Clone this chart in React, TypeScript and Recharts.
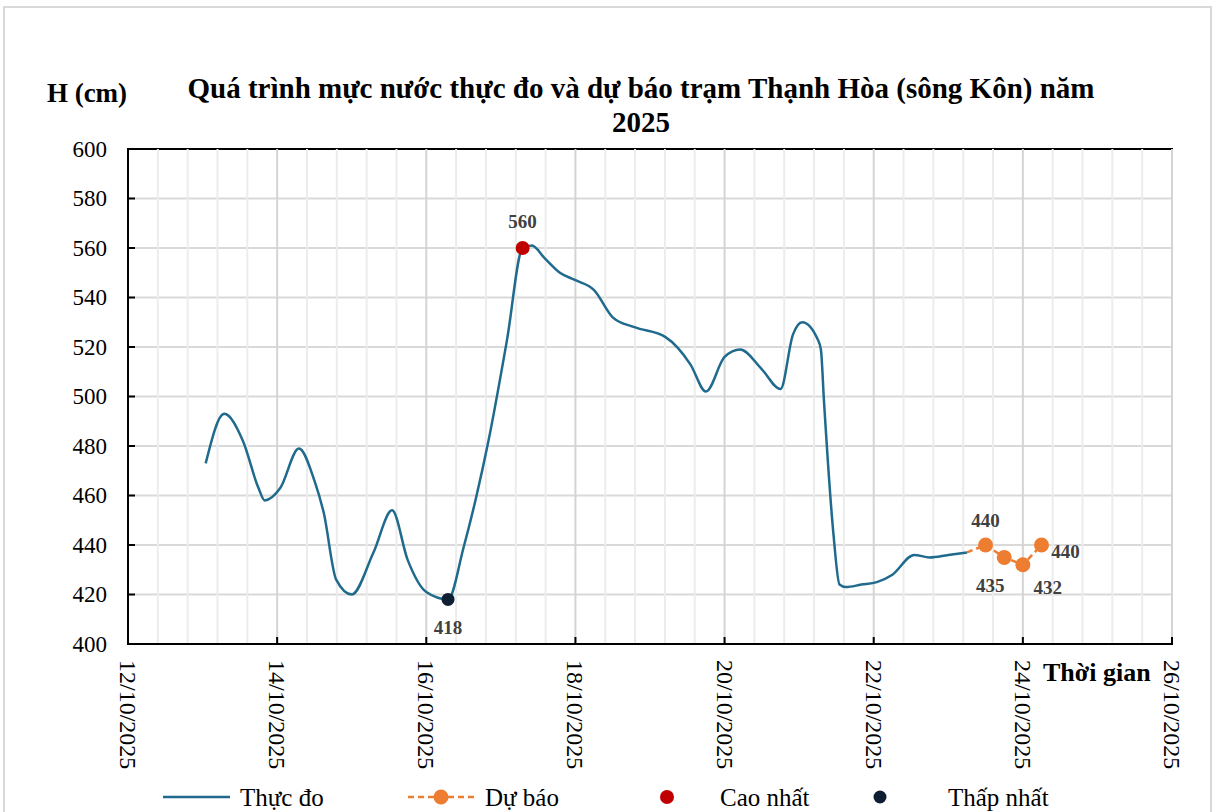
import React from 'react';
import { ComposedChart, Line, XAxis, YAxis, CartesianGrid, ReferenceLine, ReferenceArea, LabelList } from 'recharts';

// thời gian tính bằng giờ kể từ 00:00 ngày 12/10/2025
const OBS_T = [25, 31, 37, 42, 44, 49, 55, 60, 63, 67, 72, 79, 85, 90, 96, 103, 108, 112, 116, 122, 127, 130, 134, 139, 144, 150, 156, 163, 173, 181, 186, 192, 197, 204, 210, 214, 217, 222, 223, 224, 227, 229, 231, 236, 241, 246, 253, 258, 264, 270];
const OBS_H = [473, 493, 482, 463, 458, 463, 479, 466, 453, 426, 420, 437, 454, 434, 421, 418, 439, 459, 482, 523, 560, 561, 556, 550, 547, 543, 532, 528, 524, 513, 502, 516, 519, 511, 503, 525, 530, 523, 519, 498, 445, 424, 423, 424, 425, 428, 436, 435, 436, 437];

const FC_T = [270, 276, 282, 288, 294];
const FC_H = [437, 440, 435, 432, 440];

const MAX_T = 127;
const MAX_H = 560;
const MIN_T = 103;
const MIN_H = 418;

const X_TICKS = [0, 48, 96, 144, 192, 240, 288, 336];
const X_LABELS = ['12/10/2025', '14/10/2025', '16/10/2025', '18/10/2025', '20/10/2025', '22/10/2025', '24/10/2025', '26/10/2025'];
const Y_TICKS = [400, 420, 440, 460, 480, 500, 520, 540, 560, 580, 600];
const MINOR_X = Array.from({ length: 36 }, (_, i) => i * 9.6).filter((v) => Math.abs(v / 48 - Math.round(v / 48)) > 0.01);

const observed = OBS_T.map((t, i) => ({ t, h: OBS_H[i] }));
const forecast = FC_T.map((t, i) => ({ t, h: FC_H[i] }));
const highest = [{ t: MAX_T, h: MAX_H }];
const lowest = [{ t: MIN_T, h: MIN_H }];

const SERIF = '"Liberation Serif", "Times New Roman", serif';
const BLUE = '#1f6a8d';
const ORANGE = '#ed7d31';
const RED = '#c00000';
const NAVY = '#0e1f33';

function XTick({ x, y, payload }: any) {
  const label = X_LABELS[X_TICKS.indexOf(payload.value)];
  return (
    <g>
      <line x1={x} y1={y} x2={x} y2={y - 7} stroke="#000" strokeWidth={2} />
      <text transform={`translate(${x},${y + 16}) rotate(90)`} textAnchor="start" dominantBaseline="central" fontSize={24} fontFamily={SERIF} fill="#000">
        {label}
      </text>
    </g>
  );
}

function YTick({ x, y, payload }: any) {
  return (
    <g>
      <line x1={x} y1={y} x2={x + 7} y2={y} stroke="#000" strokeWidth={2} />
      <text x={x - 21} y={y} textAnchor="end" dominantBaseline="central" fontSize={23} fontFamily={SERIF} fill="#000">
        {payload.value}
      </text>
    </g>
  );
}

const labelAt = (offsets: Array<[number, number] | null>) => (props: any) => {
  const { x, y, value, index } = props;
  const o = offsets[index];
  if (!o) return null;
  return (
    <text x={x + o[0]} y={y + o[1]} textAnchor="middle" dominantBaseline="central" fontSize={19} fontWeight="bold" fontFamily={SERIF} fill="#404040">
      {value}
    </text>
  );
};

function ForecastDot({ cx, cy, index }: any) {
  if (index === 0) return null;
  return <circle cx={cx} cy={cy} r={7.5} fill={ORANGE} />;
}

export default function App() {
  return (
    <div style={{ position: 'absolute', left: 0, top: 0, width: 1217, height: 812, background: '#fff', overflow: 'hidden', fontFamily: SERIF }}>
      <div style={{ position: 'absolute', left: 3, top: 6, width: 1209, height: 830, border: '2px solid #d9d9d9', boxSizing: 'border-box' }} />
      <ComposedChart width={1217} height={812} margin={{ top: 149, right: 45, bottom: 48, left: 68 }} style={{ position: 'absolute', left: 0, top: 0 }}>
        <CartesianGrid horizontal vertical={false} stroke="#d9d9d9" strokeWidth={2} />
        {MINOR_X.map((v) => (
          <ReferenceLine key={'m' + v} x={v} stroke="#ececec" strokeWidth={2} />
        ))}
        {X_TICKS.map((v) => (
          <ReferenceLine key={'M' + v} x={v} stroke="#d4d4d4" strokeWidth={2} />
        ))}
        <XAxis
          type="number"
          dataKey="t"
          domain={[0, 336]}
          ticks={X_TICKS}
          interval={0}
          height={120}
          tickSize={0}
          tickMargin={0}
          tickLine={false}
          axisLine={{ stroke: '#000', strokeWidth: 2 }}
          tick={<XTick />}
          allowDataOverflow
        />
        <YAxis
          type="number"
          domain={[400, 600]}
          ticks={Y_TICKS}
          interval={0}
          width={60}
          tickSize={0}
          tickMargin={0}
          tickLine={false}
          axisLine={{ stroke: '#000', strokeWidth: 2 }}
          tick={<YTick />}
          allowDataOverflow
        />
        <ReferenceArea x1={0} x2={336} y1={400} y2={600} fill="none" stroke="#000" strokeWidth={2} />
        <Line data={observed} dataKey="h" type="monotone" stroke={BLUE} strokeWidth={2.5} dot={false} isAnimationActive={false} />
        <Line data={forecast} dataKey="h" type="linear" stroke={ORANGE} strokeWidth={2.5} strokeDasharray="6 4" dot={<ForecastDot />} isAnimationActive={false}>
          <LabelList dataKey="h" content={labelAt([null, [0, -25], [-14, 28], [25, 23], [24, 6]])} />
        </Line>
        <Line data={highest} dataKey="h" stroke={RED} dot={{ r: 7, fill: RED, stroke: 'none' }} isAnimationActive={false}>
          <LabelList dataKey="h" content={labelAt([[0, -27]])} />
        </Line>
        <Line data={lowest} dataKey="h" stroke={NAVY} dot={{ r: 6.5, fill: NAVY, stroke: 'none' }} isAnimationActive={false}>
          <LabelList dataKey="h" content={labelAt([[0, 28]])} />
        </Line>
      </ComposedChart>
      <svg width={1217} height={812} style={{ position: 'absolute', left: 0, top: 0, pointerEvents: 'none' }}>
        <text x={87} y={93} textAnchor="middle" dominantBaseline="central" fontSize={27} fontWeight="bold" fontFamily={SERIF}>H (cm)</text>
        <text x={641} y={88} textAnchor="middle" dominantBaseline="central" fontSize={29} fontWeight="bold" fontFamily={SERIF}>
          Quá trình mực nước thực đo và dự báo trạm Thạnh Hòa (sông Kôn) năm
        </text>
        <text x={641} y={122} textAnchor="middle" dominantBaseline="central" fontSize={29} fontWeight="bold" fontFamily={SERIF}>2025</text>
        <text x={1043} y={672} textAnchor="start" dominantBaseline="central" fontSize={26} fontWeight="bold" fontFamily={SERIF}>Thời gian</text>

        <line x1={163} y1={797} x2={230} y2={797} stroke={BLUE} strokeWidth={2.5} />
        <text x={240} y={797} dominantBaseline="central" fontSize={25} fontFamily={SERIF}>Thực đo</text>
        <line x1={408} y1={797} x2={475} y2={797} stroke={ORANGE} strokeWidth={2.5} strokeDasharray="6 4" />
        <circle cx={441} cy={797} r={7.5} fill={ORANGE} />
        <text x={485} y={797} dominantBaseline="central" fontSize={25} fontFamily={SERIF}>Dự báo</text>
        <circle cx={667} cy={797} r={7} fill={RED} />
        <text x={720} y={797} dominantBaseline="central" fontSize={25} fontFamily={SERIF}>Cao nhất</text>
        <circle cx={880} cy={797} r={6.5} fill={NAVY} />
        <text x={948} y={797} dominantBaseline="central" fontSize={25} fontFamily={SERIF}>Thấp nhất</text>
      </svg>
    </div>
  );
}
